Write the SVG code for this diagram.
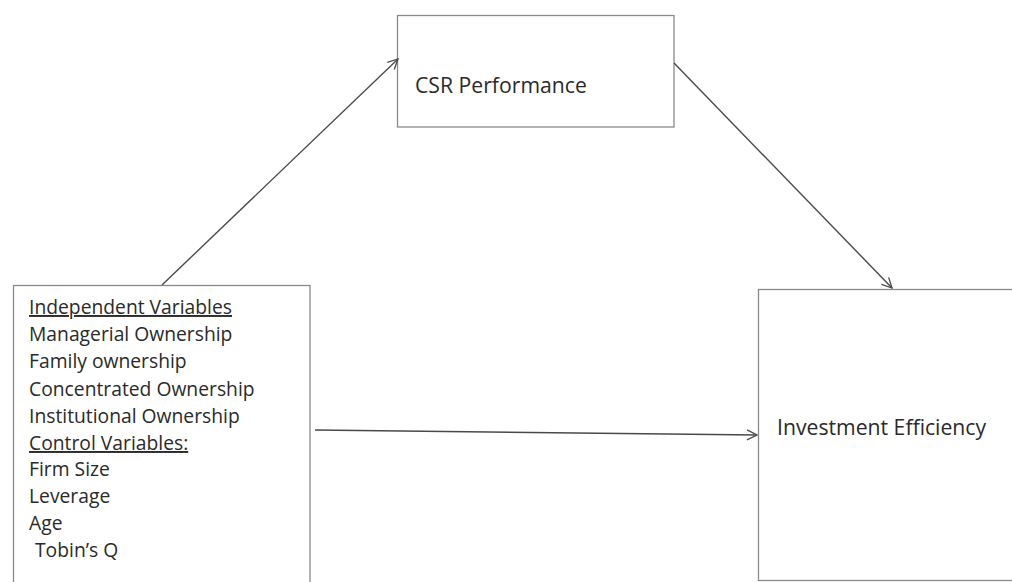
<svg xmlns="http://www.w3.org/2000/svg" width="1012" height="582" viewBox="0 0 1012 582">
<style>
.box{fill:#fff;stroke:#8a8a8a;stroke-width:1.3}
.t{font-family:"Open Sans",Lato,"Liberation Sans",sans-serif;font-size:19.3px;fill:#2a2a2a}
.big{font-size:21.2px}
.u{text-decoration:underline}
.c{stroke:#4a4a4a;stroke-width:1.4;fill:none;marker-end:url(#ah)}
</style>
<defs>
<marker id="ah" viewBox="0 0 12 12" refX="11" refY="6" markerWidth="12" markerHeight="12" markerUnits="userSpaceOnUse" orient="auto">
<path d="M1,1 L11,6 L1,11" fill="none" stroke="#4a4a4a" stroke-width="1.3"/>
</marker>
</defs>
<rect width="1012" height="582" fill="#fff"/>
<g id="csr">
<rect class="box" x="397.5" y="15.5" width="276.5" height="111.5"/>
<text class="t big" x="415" y="93">CSR Performance</text>
</g>
<g id="independent">
<rect class="box" x="13.5" y="285.5" width="296.5" height="310"/>
<text class="t" x="29" y="314"><tspan class="u">Independent Variables</tspan></text>
<text class="t" x="29" y="341">Managerial Ownership</text>
<text class="t" x="29" y="368">Family ownership</text>
<text class="t" x="29" y="396">Concentrated Ownership</text>
<text class="t" x="29" y="423">Institutional Ownership</text>
<text class="t" x="29" y="450"><tspan class="u">Control Variables:</tspan></text>
<text class="t" x="29" y="476">Firm Size</text>
<text class="t" x="29" y="503">Leverage</text>
<text class="t" x="29" y="530">Age</text>
<text class="t" x="35" y="557">Tobin’s Q</text>
</g>
<g id="investment">
<rect class="box" x="758.5" y="289.5" width="270" height="291"/>
<text class="t big" x="777" y="435">Investment Efficiency</text>
</g>
<g id="connectors">
<line class="c" x1="162" y1="285" x2="398" y2="59"/>
<line class="c" x1="674" y1="63" x2="892" y2="288"/>
<line class="c" x1="315" y1="430" x2="757" y2="435"/>
</g>
</svg>
